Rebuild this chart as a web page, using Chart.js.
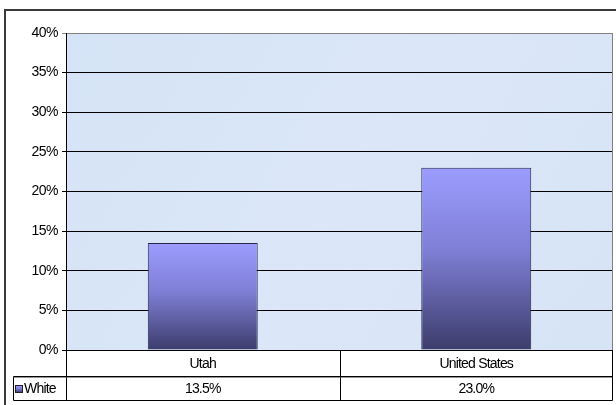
<!DOCTYPE html>
<html>
<head>
<meta charset="utf-8">
<script src="https://cdn.jsdelivr.net/npm/chart.js@4/dist/chart.umd.min.js"></script>
<style>
  html, body { margin: 0; padding: 0; background: #ffffff; }
  #wrap { width: 616px; height: 405px; }
</style>
</head>
<body>
<div id="wrap"><canvas id="c" width="616" height="405"></canvas></div>
<script>
// Share of population, by area
const categories = ['Utah', 'United States'];
const seriesName = 'White';
const whiteValues = [13.5, 23.0];
const yMin = 0;
const yMax = 40;
const yStep = 5;

const FONT = '"Liberation Sans", Arial, sans-serif';

function fmtPct(v) { return v.toFixed(1) + '%'; }

function barGradient(ctx, top, bottom) {
  const g = ctx.createLinearGradient(0, top, 0, bottom);
  g.addColorStop(0, '#9c9cff');
  g.addColorStop(0.45, '#7f7fd6');
  g.addColorStop(1, '#3c3c6c');
  return g;
}

// Plot background, frame and spacing tweaks
const framePlugin = {
  id: 'frame',
  beforeDraw(chart) {
    const { ctx, chartArea: a } = chart;
    ctx.save();
    ctx.fillStyle = '#ffffff';
    ctx.fillRect(0, 0, chart.width, chart.height);
    const bg = ctx.createLinearGradient(a.left, a.top, a.right, a.bottom);
    bg.addColorStop(0, '#d5e3f6');
    bg.addColorStop(0.5, '#dbe7f8');
    bg.addColorStop(1, '#d7e4f6');
    ctx.fillStyle = bg;
    ctx.fillRect(a.left, a.top, a.right - a.left, a.bottom - a.top);
    // outer chart border
    ctx.strokeStyle = '#3a3a3a';
    ctx.lineWidth = 2;
    ctx.beginPath();
    ctx.moveTo(5, chart.height);
    ctx.lineTo(5, 10);
    ctx.lineTo(chart.width, 10);
    ctx.stroke();
    ctx.restore();
    ctx.letterSpacing = '-0.5px';
  },
  afterDatasetsDraw(chart) {
    const { ctx, chartArea: a } = chart;
    ctx.save();
    ctx.strokeStyle = '#808080';
    ctx.lineWidth = 1;
    ctx.beginPath();
    ctx.moveTo(a.right - 0.5, a.top);
    ctx.lineTo(a.right - 0.5, a.bottom);
    ctx.stroke();
    ctx.restore();
  }
};

// Data table beneath the plot
const tablePlugin = {
  id: 'dataTable',
  afterDraw(chart) {
    const { ctx, chartArea: a } = chart;
    const xs = chart.scales.x;
    const top = Math.round(a.bottom) + 0.5;
    const mid = 376.5;
    const bot = 400.5;
    const legLeft = 13.5;
    const left = Math.round(a.left) + 0.5;
    const right = Math.round(a.right) - 0.5;
    ctx.save();
    ctx.strokeStyle = '#000000';
    ctx.lineWidth = 1;
    ctx.beginPath();
    // horizontal rules
    ctx.moveTo(legLeft, mid); ctx.lineTo(right, mid);
    ctx.moveTo(legLeft, bot); ctx.lineTo(right, bot);
    // verticals
    ctx.moveTo(left, top); ctx.lineTo(left, bot);
    ctx.moveTo(legLeft, mid); ctx.lineTo(legLeft, bot);
    ctx.moveTo(right, top); ctx.lineTo(right, bot);
    for (let i = 1; i < categories.length; i++) {
      const x = Math.round((xs.getPixelForValue(i - 1) + xs.getPixelForValue(i)) / 2) + 0.5;
      ctx.moveTo(x, top); ctx.lineTo(x, bot);
    }
    ctx.stroke();
    ctx.strokeStyle = 'rgba(80,80,80,0.6)';
    ctx.beginPath();
    ctx.moveTo(legLeft, mid + 1); ctx.lineTo(right, mid + 1);
    ctx.stroke();

    ctx.letterSpacing = '-0.8px';
    ctx.fillStyle = '#000000';
    ctx.font = '14px ' + FONT;
    ctx.textAlign = 'center';
    ctx.textBaseline = 'middle';
    categories.forEach((c, i) => {
      const x = xs.getPixelForValue(i);
      ctx.fillText(c, x, (top + mid) / 2 + 1);
      ctx.fillText(fmtPct(whiteValues[i]), x, (mid + bot) / 2 + 1);
    });
    // legend key
    const kx = 15.5, ky = 385.5;
    ctx.fillStyle = barGradient(ctx, ky, ky + 7);
    ctx.fillRect(kx, ky, 7, 7);
    ctx.strokeStyle = '#222';
    ctx.strokeRect(kx, ky, 7, 7);
    ctx.fillStyle = '#000';
    ctx.textAlign = 'left';
    ctx.fillText(seriesName, 24, (mid + bot) / 2 + 1);
    ctx.restore();
  }
};

new Chart(document.getElementById('c'), {
  type: 'bar',
  data: {
    labels: categories,
    datasets: [{
      label: seriesName,
      data: whiteValues,
      categoryPercentage: 1,
      barPercentage: 0.402,
      borderColor: '#26264a',
      borderWidth: { top: 1, left: 1, right: 1, bottom: 0 },
      borderSkipped: 'bottom',
      backgroundColor(context) {
        const chart = context.chart;
        if (!chart.chartArea || context.parsed === undefined) return '#8080d0';
        const ys = chart.scales.y;
        const t = ys.getPixelForValue(context.parsed.y);
        const b = ys.getPixelForValue(0);
        return barGradient(chart.ctx, t, b);
      }
    }]
  },
  options: {
    responsive: false,
    animation: false,
    devicePixelRatio: 1,
    layout: { padding: { top: 33, right: 3, bottom: 55, left: 0 } },
    plugins: {
      legend: { display: false },
      tooltip: { enabled: false },
      title: { display: false }
    },
    scales: {
      x: {
        display: false,
        grid: { display: false }
      },
      y: {
        min: yMin,
        max: yMax,
        afterFit(scale) { scale.width = 66; },
        ticks: {
          stepSize: yStep,
          padding: 4,
          color: '#000000',
          font: { family: FONT, size: 14 },
          callback: (v) => v + '%'
        },
        grid: {
          color: (c) => (c.tick && c.tick.value === yMax ? '#808080' : '#000000'),
          lineWidth: 1,
          tickLength: 4,
          drawTicks: true
        },
        border: { display: true, color: '#000000', width: 1 }
      }
    }
  },
  plugins: [framePlugin, tablePlugin]
});
</script>
</body>
</html>
